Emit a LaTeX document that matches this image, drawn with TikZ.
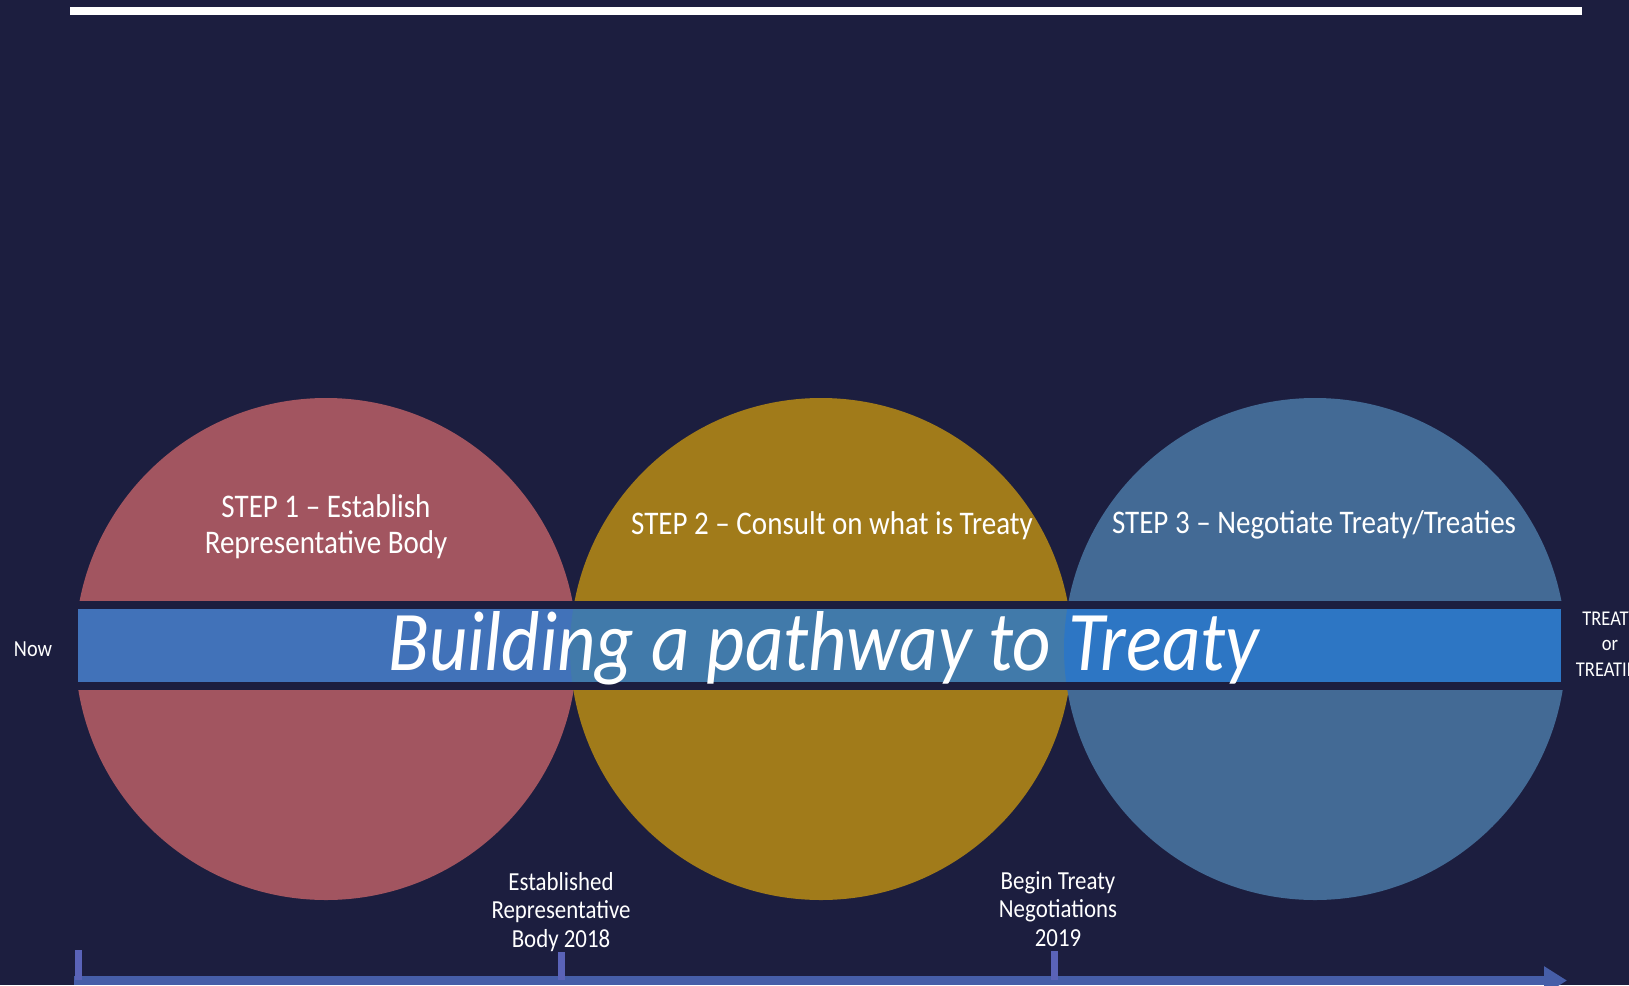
\documentclass[tikz,border=0pt]{standalone}
\usepackage{fontspec}
\setmainfont[FakeStretch=0.88]{Carlito}
\newfontfamily\titlefont[FakeStretch=0.88]{Carlito}
\usetikzlibrary{arrows.meta}
\definecolor{bgcol}{RGB}{28,30,63}
\definecolor{circA}{RGB}{162,85,96}
\definecolor{circB}{RGB}{161,123,26}
\definecolor{circC}{RGB}{67,106,149}
\definecolor{bandblue}{RGB}{40,122,209}
\definecolor{barcol}{RGB}{70,94,168}
\definecolor{tickcol}{RGB}{90,99,184}
\tikzset{
  stepcircle/.style={circle, minimum size=502pt, inner sep=0pt},
  steplabel/.style={text=white, align=center, inner sep=0pt, font=\fontsize{33}{36}\selectfont},
  datelabel/.style={text=white, align=center, inner sep=0pt, font=\fontsize{26}{28.5}\selectfont},
  sidelabel/.style={text=white, align=center, inner sep=0pt},
  ticklinestyle/.style={tickcol, line width=7pt},
}
\begin{document}
\begin{tikzpicture}[x=1pt,y=-1pt]
\useasboundingbox (0,0) rectangle (1629,985);
\clip (0,0) rectangle (1629,985);
\fill[bgcol] (0,0) rectangle (1629,985);
% top white rule
\node[fill=white, minimum width=1512pt, minimum height=8pt, inner sep=0pt] (topbar) at (826,11) {};
% circles
\node[stepcircle, fill=circA] (circ1) at (326,649) {};
\node[stepcircle, fill=circB] (circ2) at (821,649) {};
\node[stepcircle, fill=circC] (circ3) at (1315,649) {};
% band
\node[draw=bgcol, line width=8pt, fill=bandblue, fill opacity=0.79, minimum width=1491pt, minimum height=81pt, inner sep=0pt] (band) at (819.5,645.5) {};
\node[anchor=base, text=white, inner sep=0pt, font=\titlefont\itshape\fontsize{85}{85}\selectfont] (title) at (824,670) {Building a pathway to Treaty};
% step labels
\node[steplabel, anchor=base] (s1) at (326,553) {STEP 1 – Establish\\Representative Body};
\node[steplabel, anchor=base] (s2) at (832,534) {STEP 2 – Consult on what is Treaty};
\node[steplabel, anchor=base] (s3) at (1314,533) {STEP 3 – Negotiate Treaty/Treaties};
% side labels
\node[sidelabel, anchor=base, font=\fontsize{23}{25}\selectfont] (now) at (33,656) {Now};
\node[sidelabel, anchor=base, font=\fontsize{21}{25.5}\selectfont] (treaty) at (1610,676) {TREATY\\or\\TREATIES};
% timeline
\coordinate (tlstart) at (74,980.5);
\coordinate (tlend) at (1567,980.5);
\draw[barcol, line width=9pt, -{Triangle[length=23pt, width=27pt]}] (tlstart) -- (tlend);
\coordinate (tk0a) at (78.5,950);
\coordinate (tk0b) at (78.5,980);
\coordinate (tk1a) at (561,952);
\coordinate (tk1b) at (561,980);
\coordinate (tk2a) at (1054,951);
\coordinate (tk2b) at (1054,980);
\draw[ticklinestyle] (tk0a) -- (tk0b);
\draw[ticklinestyle] (tk1a) -- (tk1b);
\draw[ticklinestyle] (tk2a) -- (tk2b);
% date labels
\node[datelabel, anchor=base] (d1) at (561,947) {Established\\Representative\\Body 2018};
\node[datelabel, anchor=base] (d2) at (1058,946) {Begin Treaty\\Negotiations\\2019};
\end{tikzpicture}
\end{document}
